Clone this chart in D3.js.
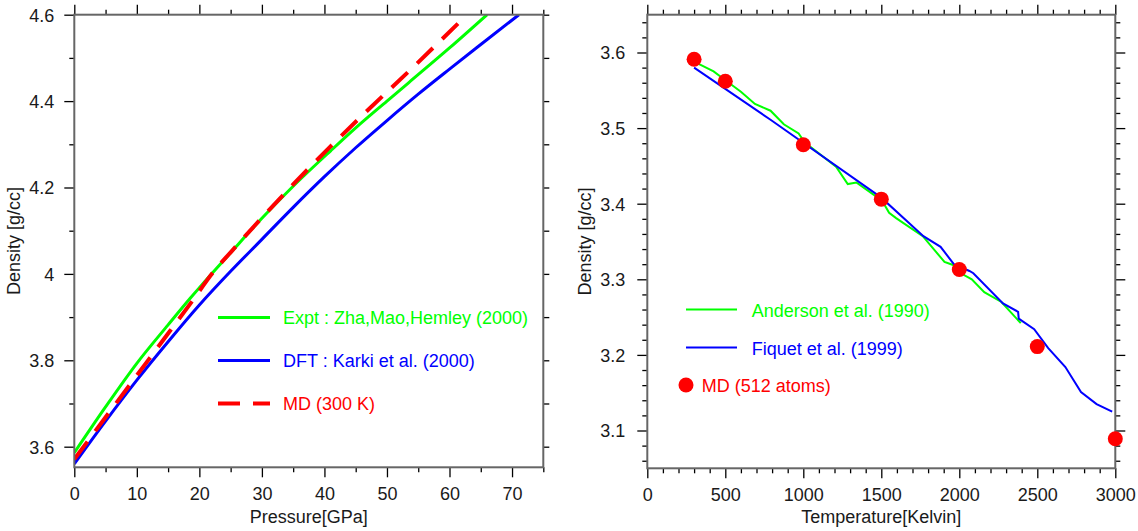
<!DOCTYPE html>
<html><head><meta charset="utf-8">
<script src="https://cdn.jsdelivr.net/npm/d3@7"></script>
<style>
body{margin:0;background:#fff;}
svg{display:block;font-family:"Liberation Sans",Arial,sans-serif;}
</style></head><body>
<svg id="chart" width="1138" height="531"></svg>
<script>
// ---- Left panel data: density vs pressure ----
const pressureExpt = [0,5,10,15,18.5,20,25,30,35,41,45,50,53.5,60,66];
const densityExpt  = [3.586,3.692,3.793,3.882,3.943,3.968,4.049,4.129,4.203,4.285,4.338,4.400,4.443,4.523,4.600];
const pressureDFT  = [0,5,10,15,20,25,30,35,40,45,50,55,60,65,71.1];
const densityDFT   = [3.560,3.659,3.754,3.843,3.928,4.006,4.080,4.154,4.225,4.292,4.355,4.416,4.474,4.531,4.600];
const pressureMD   = [0,5,10,15,18.5,22.5,25,30,35,40.9,47,54.3,58,62.8];
const densityMD    = [3.571,3.668,3.765,3.862,3.930,4.009,4.050,4.130,4.207,4.294,4.380,4.480,4.532,4.600];
const leftLegend   = ["Expt : Zha,Mao,Hemley (2000)","DFT : Karki et al. (2000)","MD (300 K)"];
const leftXMajor = [0,10,20,30,40,50,60,70];
const leftXMinor = [5,15,25,35,45,55,65,75];
const leftYMajor = [3.6,3.8,4.0,4.2,4.4,4.6];
const leftYMinor = [3.7,3.9,4.1,4.3,4.5];

// ---- Right panel data: density vs temperature ----
const tempAnderson    = [300,425,490,600,690,790,875,970,1010,1210,1285,1340,1450,1500,1550,1595,1766,1905,1960,2010,2080,2160,2270,2394];
const densityAnderson = [3.588,3.575,3.565,3.548,3.532,3.523,3.505,3.493,3.481,3.449,3.426,3.428,3.412,3.406,3.388,3.381,3.357,3.323,3.319,3.308,3.300,3.283,3.270,3.242];
const tempFiquet      = [300,790,1500,1770,1880,1965,2065,2090,2280,2377,2381,2480,2570,2680,2780,2880,2980];
const densityFiquet   = [3.580,3.511,3.408,3.357,3.343,3.320,3.311,3.308,3.268,3.257,3.248,3.234,3.209,3.184,3.151,3.135,3.125];
const tempMD          = [300,500,1000,1500,2000,2500,3000];
const densityMDT      = [3.591,3.562,3.478,3.406,3.313,3.211,3.089];
const rightLegend     = ["Anderson et al. (1990)","Fiquet et al. (1999)","MD (512 atoms)"];
const rightXMajor = [0,500,1000,1500,2000,2500,3000];
const rightXMinor = d3.range(100,3000,100).filter(v => v % 500 !== 0);
const rightYMajor = [3.1,3.2,3.3,3.4,3.5,3.6];
const rightYMinor = [3.06,3.08,3.12,3.14,3.16,3.18,3.22,3.24,3.26,3.28,3.32,3.34,3.36,3.38,3.42,3.44,3.46,3.48,3.52,3.54,3.56,3.58,3.62,3.64];

const GREEN = "#00ff00", BLUE = "#0000ff", RED = "#ff0000";
const svg = d3.select("#chart");
const fmt = d => String(+(+d).toFixed(2));

function frame(g, x, y, opts) {
  const [x0,x1] = x.range(), [y0,y1] = y.range();
  const H = y0 - y1, W = x1 - x0;
  function ax(gen, tr, vals, size, labels) {
    const a = g.append("g").attr("transform", tr)
      .call(gen.tickValues(vals).tickSize(size).tickSizeOuter(0).tickPadding(labels ? opts.pad : 0)
        .tickFormat(labels ? fmt : ""));
    a.select(".domain").remove();
    a.selectAll("line").attr("stroke", "#000").attr("stroke-width", 1.3);
    a.selectAll("text").attr("font-size", 18).attr("fill", "#1a1a1a").attr("font-family", "Liberation Sans, Arial, sans-serif");
    return a;
  }
  // bottom
  ax(d3.axisBottom(x), `translate(0,${y0})`, opts.xMinor, 5, false);
  const b = ax(d3.axisBottom(x), `translate(0,${y0})`, opts.xMajor, 10, true);
  b.selectAll("text").attr("dy", null).attr("y", 33);
  // top
  ax(d3.axisTop(x), `translate(0,${y1})`, opts.xMinor, 5, false);
  ax(d3.axisTop(x), `translate(0,${y1})`, opts.xMajor, 10, false);
  // left
  ax(d3.axisLeft(y), `translate(${x0},0)`, opts.yMinor, 5, false);
  const l = ax(d3.axisLeft(y), `translate(${x0},0)`, opts.yMajor, 10, true);
  l.selectAll("text").attr("x", -opts.yLabelGap).attr("dy", "0.36em");
  // right
  ax(d3.axisRight(y), `translate(${x1},0)`, opts.yMinor, opts.rMinor, false);
  ax(d3.axisRight(y), `translate(${x1},0)`, opts.yMajor, opts.rMajor, false);
  // frame lines
  g.append("rect").attr("x", x0).attr("y", y1).attr("width", W).attr("height", H)
    .attr("fill", "none").attr("stroke", "#666").attr("stroke-width", 2);
  // titles
  g.append("text").attr("x", (x0+x1)/2).attr("y", 523).attr("text-anchor", "middle")
    .attr("font-size", 18).attr("fill", "#1a1a1a").text(opts.xTitle);
  g.append("text").attr("transform", `translate(${opts.yTitleX},${(y0+y1)/2}) rotate(-90)`)
    .attr("text-anchor", "middle").attr("font-size", 18).attr("fill", "#1a1a1a").text(opts.yTitle);
}

// ---------- Left panel ----------
const xL = d3.scaleLinear().domain([0, 75]).range([74.3, 543.3]);
const yL = d3.scaleLinear().domain([3.5523, 4.6]).range([467.3, 14.7]);
const gL = svg.append("g");
const clipL = svg.append("clipPath").attr("id", "clipL").append("rect")
  .attr("x", 74.3).attr("y", 14.7).attr("width", 469).attr("height", 452.6);
const lineL = (xs, ys) => d3.line().curve(d3.curveMonotoneX)(xs.map((p,i) => [xL(p), yL(ys[i])]));
const curvesL = gL.append("g").attr("clip-path", "url(#clipL)");
curvesL.append("path").attr("d", lineL(pressureExpt, densityExpt)).attr("fill","none").attr("stroke", GREEN).attr("stroke-width", 3);
curvesL.append("path").attr("d", lineL(pressureDFT, densityDFT)).attr("fill","none").attr("stroke", BLUE).attr("stroke-width", 3);
curvesL.append("path").attr("d", lineL(pressureMD, densityMD)).attr("fill","none").attr("stroke", RED).attr("stroke-width", 4).attr("stroke-dasharray", "22,13");
frame(gL, xL, yL, {xMajor: leftXMajor, xMinor: leftXMinor, yMajor: leftYMajor, yMinor: leftYMinor,
  rMinor: 6, rMajor: 6, pad: 0, yLabelGap: 20, xTitle: "Pressure[GPa]", yTitle: "Density [g/cc]", yTitleX: 20});
// legend left
const legL = gL.append("g");
const legColsL = [GREEN, BLUE, RED];
leftLegend.forEach((t, i) => {
  const yy = 317.5 + i*43;
  legL.append("line").attr("x1", 218).attr("x2", 270).attr("y1", yy).attr("y2", yy)
    .attr("stroke", legColsL[i]).attr("stroke-width", i === 2 ? 4 : 3)
    .attr("stroke-dasharray", i === 2 ? "22,13" : null);
  legL.append("text").attr("x", 283).attr("y", yy + 0.5).attr("dy", "0.36em")
    .attr("font-size", 18).attr("fill", legColsL[i]).text(t);
});

// ---------- Right panel ----------
const xR = d3.scaleLinear().domain([0, 3000]).range([647.3, 1115.3]);
const yR = d3.scaleLinear().domain([3.05, 3.65]).range([468.3, 14.7]);
const gR = svg.append("g");
const lineR = d3.line().x(d => xR(d[0])).y(d => yR(d[1]));
gR.append("path").attr("d", lineR(tempAnderson.map((t,i) => [t, densityAnderson[i]])))
  .attr("fill","none").attr("stroke", GREEN).attr("stroke-width", 2);
gR.append("path").attr("d", lineR(tempFiquet.map((t,i) => [t, densityFiquet[i]])))
  .attr("fill","none").attr("stroke", BLUE).attr("stroke-width", 2);
frame(gR, xR, yR, {xMajor: rightXMajor, xMinor: rightXMinor, yMajor: rightYMajor, yMinor: rightYMinor,
  rMinor: 5, rMajor: 10, pad: 0, yLabelGap: 22, xTitle: "Temperature[Kelvin]", yTitle: "Density [g/cc]", yTitleX: 591});
gR.append("g").selectAll("circle").data(tempMD).join("circle")
  .attr("cx", d => xR(d)).attr("cy", (d,i) => yR(densityMDT[i])).attr("r", 7.5).attr("fill", RED);
// legend right
const legR = gR.append("g");
[GREEN, BLUE].forEach((c, i) => {
  const yy = 309.5 + i*38;
  legR.append("line").attr("x1", 686).attr("x2", 737).attr("y1", yy).attr("y2", yy)
    .attr("stroke", c).attr("stroke-width", 2);
  legR.append("text").attr("x", 751.7).attr("y", yy + 1).attr("dy", "0.36em")
    .attr("font-size", 18).attr("fill", c).text(rightLegend[i]);
});
legR.append("circle").attr("cx", 686).attr("cy", 385).attr("r", 7.5).attr("fill", RED);
legR.append("text").attr("x", 701.7).attr("y", 385.5).attr("dy", "0.36em")
  .attr("font-size", 18).attr("fill", RED).text(rightLegend[2]);
</script>
</body></html>
